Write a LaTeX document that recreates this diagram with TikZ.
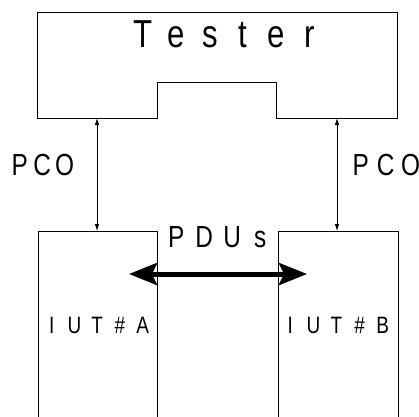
\documentclass[tikz,border=0pt]{standalone}
\usepackage{fontspec}
\newfontfamily\lblfont[FakeStretch=0.8]{Liberation Sans}
\usetikzlibrary{arrows.meta,positioning}
% letters set at a fixed pitch
\makeatletter
\newcommand\pitched[2]{\@tfor\pitchlt:=#2\do{\makebox[#1]{\pitchlt}}}
\makeatother

\begin{document}
\begin{tikzpicture}[
    x=1pt, y=-1pt,
    every node/.style={font=\lblfont, inner sep=0pt, anchor=base west},
    frame/.style={draw, line width=0.9pt},
    pco/.style={{Latex[length=7pt,width=4.5pt]}-{Latex[length=7pt,width=4.5pt]}, line width=0.8pt},
    pdu/.style={{Stealth[length=28pt,width=22pt,inset=5pt]}-{Stealth[length=28pt,width=22pt,inset=5pt]}, line width=5pt},
]
\useasboundingbox (0,0) rectangle (419,416);

% Tester outline
\draw[frame] (37,12) -- (397,12) -- (397,118) -- (276,118) -- (276,82)
    -- (157,82) -- (157,118) -- (37,118) -- cycle;
\coordinate (tA) at (97,118);
\coordinate (tB) at (337,118);

% IUT boxes (open at the bottom)
\draw[frame] (38,420) -- (38,231) -- (157,231) -- (157,420);
\draw[frame] (278,420) -- (278,231) -- (398,231) -- (398,420);
\coordinate (iA) at (97,231);
\coordinate (iB) at (337,231);
\coordinate (pA) at (129,274);
\coordinate (pB) at (307,274);

% Nodes
\node[font=\lblfont\fontsize{39}{42}\selectfont] (tester) at (126.4,47) {\pitched{33.3pt}{Tester}};
\node[font=\lblfont\fontsize{30.5}{33}\selectfont] (pcoA) at (8.3,175) {\pitched{22.5pt}{PCO}};
\node[font=\lblfont\fontsize{30.5}{33}\selectfont] (pcoB) at (348,175) {\pitched{25pt}{PCO}};
\node[font=\lblfont\fontsize{30.5}{33}\selectfont] (pdus) at (162,247) {\pitched{28pt}{PDUs}};
\node[font=\lblfont\fontsize{23.7}{26}\selectfont] (iutA) at (40.1,333) {\pitched{22.75pt}{IUT\#A}};
\node[font=\lblfont\fontsize{23.7}{26}\selectfont] (iutB) at (278.5,333) {\pitched{23.1pt}{IUT\#B}};

% Arrows
\draw[pco] (tA) -- (iA);
\draw[pco] (tB) -- (iB);
\draw[pdu] (pA) -- (pB);
\end{tikzpicture}
\end{document}
